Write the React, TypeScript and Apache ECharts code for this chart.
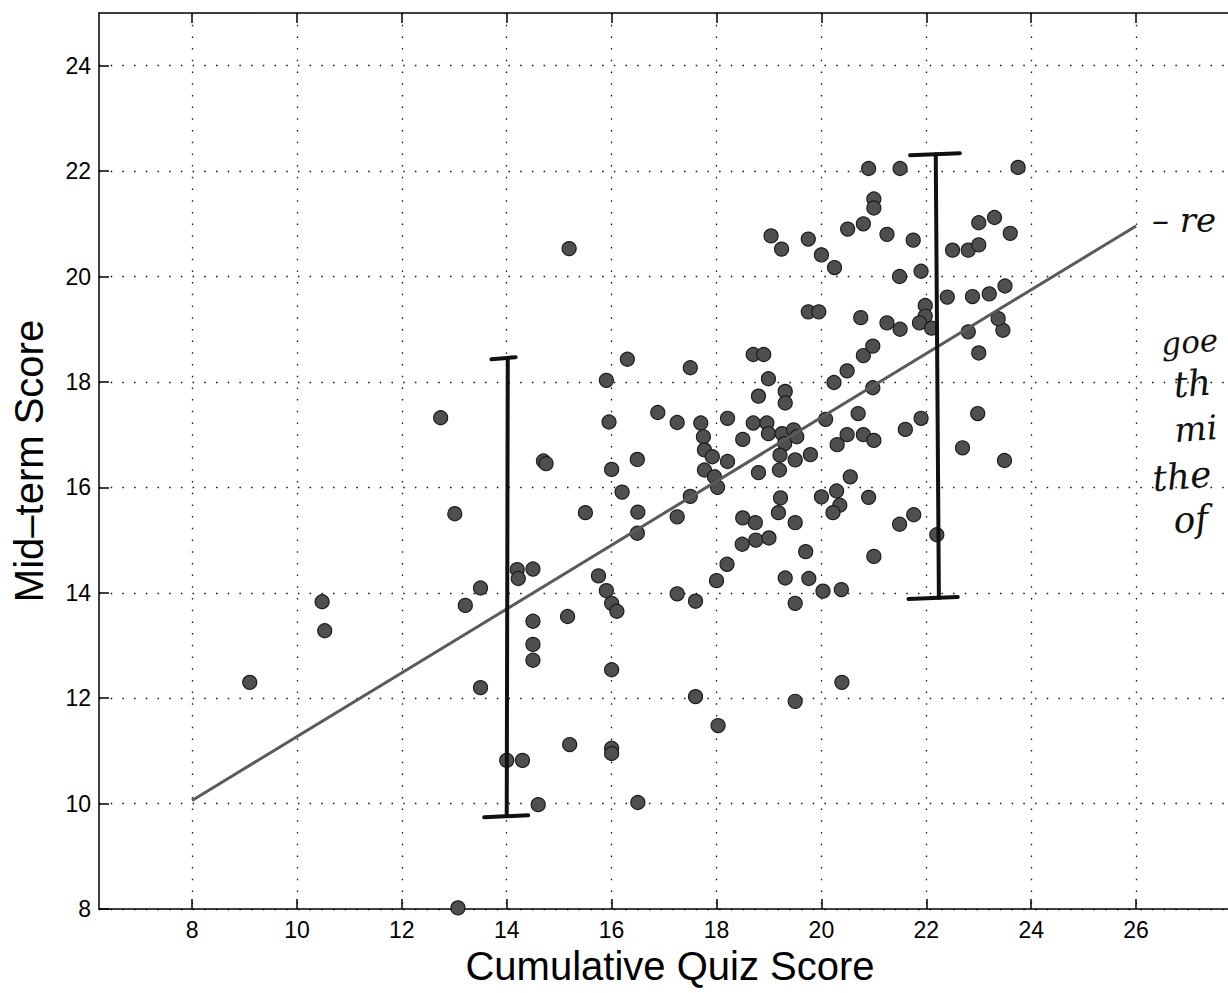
import React, { useEffect, useRef } from "react";
import * as echarts from "echarts";

// [cumulative quiz score, mid-term score]
const studentScores: [number, number][] = [
  [9.1, 12.3], [10.48, 13.83], [10.53, 13.28], [12.74, 17.32], [13.01, 15.5],
  [13.5, 14.09], [13.21, 13.76], [13.5, 12.2], [13.07, 8.02], [14.2, 14.44],
  [14.22, 14.27], [14.5, 14.45], [14.5, 13.46], [14.5, 13.02], [14.5, 12.72],
  [14.0, 10.82], [14.3, 10.82], [14.6, 9.98], [14.7, 16.5], [14.75, 16.45],
  [15.16, 13.55], [15.2, 11.12], [15.19, 20.53], [15.5, 15.52], [15.75, 14.32],
  [15.9, 14.04], [16.0, 13.8], [16.1, 13.65], [15.9, 18.03], [15.95, 17.24],
  [16.0, 16.34], [16.0, 12.54], [16.0, 11.05], [16.0, 10.95], [16.2, 15.91],
  [16.3, 18.43], [16.49, 16.53], [16.5, 15.53], [16.49, 15.13], [16.5, 10.02],
  [16.88, 17.42], [17.25, 17.23], [17.25, 15.44], [17.25, 13.98], [17.5, 18.27],
  [17.5, 15.83], [17.6, 13.84], [17.6, 12.03], [17.7, 17.22], [17.75, 16.96],
  [17.77, 16.71], [17.92, 16.58], [17.77, 16.33], [17.96, 16.2], [18.02, 16.0],
  [18.21, 16.49], [18.21, 17.31], [18.0, 14.23], [18.2, 14.54], [18.03, 11.48],
  [18.5, 16.91], [18.7, 18.52], [18.9, 18.52], [18.99, 18.06], [18.8, 17.73],
  [19.31, 17.82], [19.31, 17.6], [18.7, 17.22], [18.96, 17.22], [18.99, 17.02],
  [19.25, 17.02], [19.47, 17.09], [19.53, 16.96], [19.3, 16.83], [19.21, 16.61],
  [19.5, 16.52], [19.79, 16.62], [18.8, 16.28], [19.2, 16.33], [19.22, 15.8],
  [19.18, 15.52], [19.5, 15.33], [18.5, 15.42], [18.74, 15.33], [18.49, 14.92],
  [18.75, 15.0], [19.0, 15.04], [19.7, 14.78], [19.31, 14.28], [19.76, 14.27],
  [19.5, 13.8], [19.5, 11.94], [20.03, 14.03], [20.38, 14.06], [20.39, 12.3],
  [20.0, 15.82], [20.29, 15.93], [20.35, 15.66], [20.22, 15.52], [20.9, 15.81],
  [21.49, 15.3], [21.76, 15.48], [22.2, 15.1], [20.55, 16.2], [20.08, 17.29],
  [20.7, 17.4], [20.49, 17.0], [20.3, 16.81], [20.8, 17.0], [21.0, 16.89],
  [21.6, 17.1], [21.9, 17.31], [22.98, 17.4], [22.69, 16.75], [23.49, 16.51],
  [21.0, 14.69], [20.24, 17.99], [20.49, 18.21], [20.98, 17.89], [20.8, 18.5],
  [20.98, 18.68], [23.0, 18.55], [23.46, 18.98], [23.37, 19.2], [22.8, 18.95],
  [21.5, 19.0], [21.25, 19.12], [20.75, 19.22], [19.75, 19.33], [19.95, 19.33],
  [21.98, 19.45], [21.98, 19.25], [21.87, 19.12], [22.1, 19.02], [22.4, 19.61],
  [22.88, 19.62], [23.2, 19.67], [23.5, 19.82], [20.25, 20.17], [20.0, 20.41],
  [19.04, 20.77], [19.24, 20.52], [19.75, 20.71], [20.5, 20.9], [20.8, 21.0],
  [21.25, 20.8], [21.75, 20.69], [21.49, 20.0], [21.9, 20.1], [22.5, 20.5],
  [22.8, 20.5], [23.0, 20.6], [23.0, 21.02], [23.3, 21.12], [23.6, 20.82],
  [21.0, 21.47], [21.0, 21.3], [20.9, 22.05], [21.5, 22.05], [23.75, 22.07],
];

// fitted regression line end points
const regressionX = [8, 26];
const regressionY = [10.06, 20.96];

// hand-drawn spread bars: [x at bottom, low, x at top, high, capBottomLeft, capBottomRight, capTopLeft, capTopRight]
const spreadBars: number[][] = [
  [14.0, 9.76, 14.02, 18.45, 13.57, 14.41, 13.71, 14.17],
  [22.24, 13.9, 22.18, 22.32, 21.66, 22.6, 21.69, 22.64],
];

const xTicks = [8, 10, 12, 14, 16, 18, 20, 22, 24, 26, 28];
const xTickLabels = [8, 10, 12, 14, 16, 18, 20, 22, 24, 26];
const yTicks = [8, 10, 12, 14, 16, 18, 20, 22, 24];

const FONT = "Liberation Sans, Arial, Helvetica, sans-serif";
const HAND = "DejaVu Serif";

export default function App() {
  const ref = useRef<HTMLDivElement>(null);

  useEffect(() => {
    if (!ref.current) return;
    const chart = echarts.init(ref.current, null, { renderer: "svg" });

    const axisLine = { show: true, lineStyle: { color: "#000", width: 1.5 } };
    const tickStyle = { color: "#000", width: 1.5 };
    const gridLine = { show: true, lineStyle: { type: [1.5, 10.2], color: "#111", width: 1.3 } };

    const option: any = {
      animation: false,
      backgroundColor: "#fff",
      grid: { left: 99, right: 19, top: 13, bottom: 84, containLabel: false },
      xAxis: [
        {
          type: "value", min: 6.226, max: 28, position: "bottom",
          axisLine,
          axisTick: { show: true, inside: true, length: 10, customValues: xTicks, lineStyle: tickStyle },
          axisLabel: { customValues: xTickLabels, fontSize: 23, color: "#000", fontFamily: FONT, margin: 9 },
          splitLine: gridLine,
          name: "Cumulative Quiz Score", nameLocation: "middle", nameGap: 36,
          nameTextStyle: { fontSize: 40, color: "#000", fontFamily: FONT },
        },
        {
          type: "value", min: 6.226, max: 28, position: "top",
          axisLine,
          axisTick: { show: true, inside: true, length: 10, customValues: xTicks, lineStyle: tickStyle },
          axisLabel: { show: false },
          splitLine: { show: false },
        },
      ],
      yAxis: [
        {
          type: "value", min: 8, max: 25, position: "left",
          axisLine,
          axisTick: { show: true, inside: true, length: 10, customValues: yTicks, lineStyle: tickStyle },
          axisLabel: { customValues: yTicks, fontSize: 23, color: "#000", fontFamily: FONT, margin: 8 },
          splitLine: gridLine,
          name: "Mid\u2013term Score", nameLocation: "middle", nameGap: 50,
          nameTextStyle: { fontSize: 40, color: "#000", fontFamily: FONT },
        },
        {
          type: "value", min: 8, max: 25, position: "right",
          axisLine,
          axisTick: { show: true, inside: true, length: 10, customValues: yTicks, lineStyle: tickStyle },
          axisLabel: { show: false },
          splitLine: { show: false },
        },
      ],
      series: [
        {
          type: "scatter",
          xAxisIndex: 0, yAxisIndex: 0,
          data: studentScores,
          symbol: "circle",
          symbolSize: 14,
          itemStyle: { color: "#4f4f4f", borderColor: "#1c1c1c", borderWidth: 1.2, opacity: 1 },
          z: 2,
        },
        {
          type: "line",
          xAxisIndex: 0, yAxisIndex: 0,
          data: regressionX.map((x, i) => [x, regressionY[i]]),
          showSymbol: false, symbol: "none",
          lineStyle: { color: "#5a5a5a", width: 3 },
          z: 3,
        },
        {
          type: "custom",
          xAxisIndex: 0, yAxisIndex: 0,
          data: spreadBars,
          z: 4,
          renderItem: (_params: any, api: any) => {
            const bx = api.value(0), lo = api.value(1), tx = api.value(2), hi = api.value(3);
            const pLo = api.coord([bx, lo]);
            const pHi = api.coord([tx, hi]);
            const cbl = api.coord([api.value(4), lo]);
            const cbr = api.coord([api.value(5), lo]);
            const ctl = api.coord([api.value(6), hi]);
            const ctr = api.coord([api.value(7), hi]);
            const style = { stroke: "#111", lineWidth: 4, lineCap: "round" };
            return {
              type: "group",
              children: [
                { type: "line", shape: { x1: pLo[0], y1: pLo[1], x2: pHi[0], y2: pHi[1] }, style },
                { type: "line", shape: { x1: cbl[0], y1: cbl[1] + 1, x2: cbr[0], y2: cbr[1] - 1 }, style },
                { type: "line", shape: { x1: ctl[0], y1: ctl[1] + 1, x2: ctr[0], y2: ctr[1] - 1 }, style },
              ],
            };
          },
        },
      ],
      graphic: [
        { type: "text", left: 1152, top: 203, style: { text: "\u2013 re", font: `italic 34px ${HAND}`, fill: "#111" } },
        { type: "text", left: 1160, top: 324, style: { text: "goe", font: `italic 31px ${HAND}`, fill: "#111" }, rotation: 0.08 },
        { type: "text", left: 1172, top: 364, style: { text: "th", font: `italic 36px ${HAND}`, fill: "#111" }, rotation: 0.08 },
        { type: "text", left: 1173, top: 410, style: { text: "mi", font: `italic 34px ${HAND}`, fill: "#111" }, rotation: 0.08 },
        { type: "text", left: 1151, top: 456, style: { text: "the", font: `italic 36px ${HAND}`, fill: "#111" }, rotation: 0.08 },
        { type: "text", left: 1172, top: 500, style: { text: "of", font: `italic 36px ${HAND}`, fill: "#111" }, rotation: 0.08 },
      ],
    };

    chart.setOption(option);
    return () => chart.dispose();
  }, []);

  return (
    <div style={{ position: "fixed", left: 0, top: 0, width: 1228, height: 993, overflow: "hidden", background: "#fff" }}>
      <div ref={ref} style={{ width: 1260, height: 993 }} />
    </div>
  );
}
